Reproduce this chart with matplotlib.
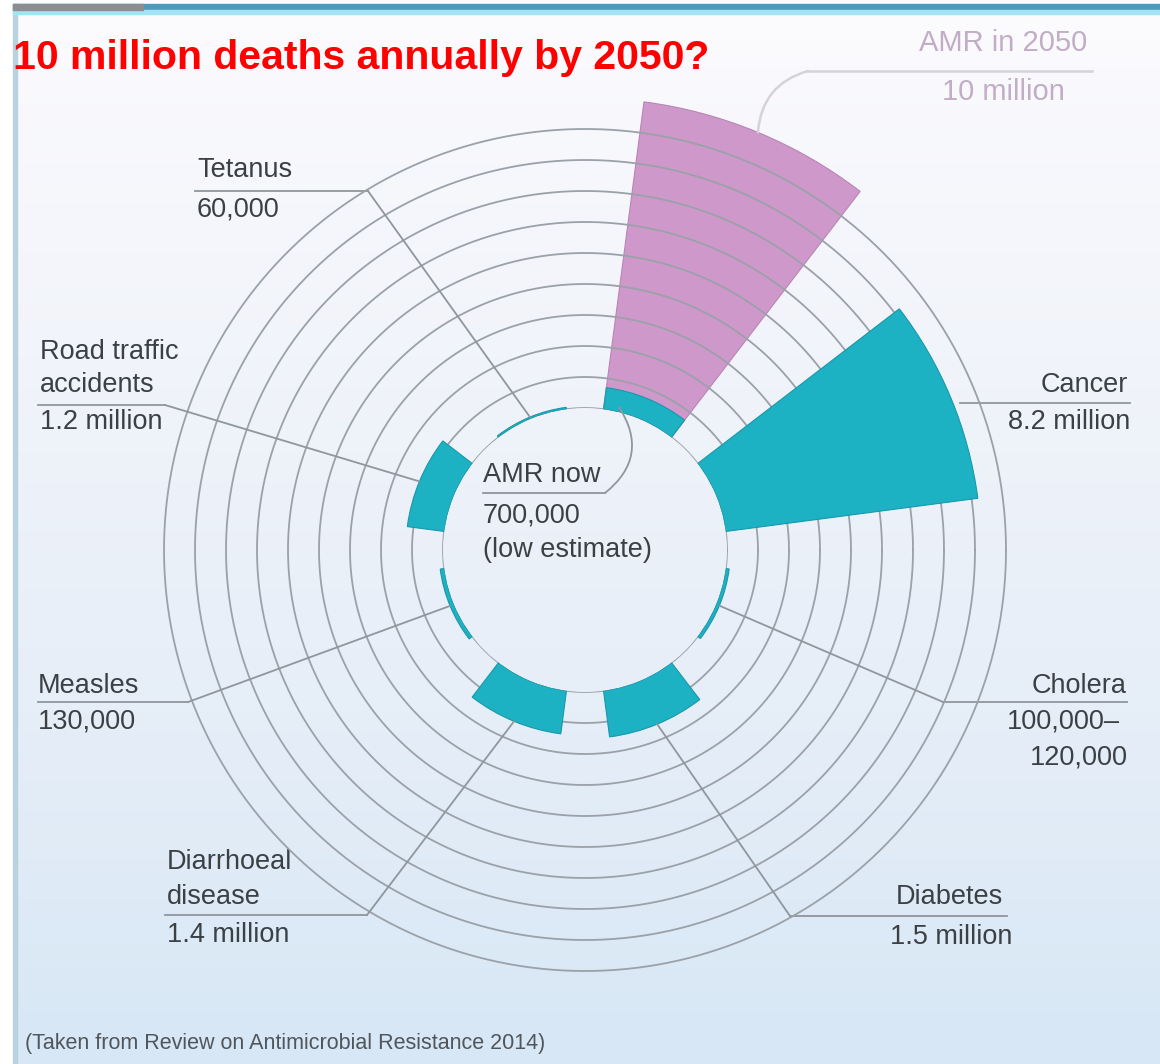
import numpy as np
import matplotlib.pyplot as plt
from matplotlib.patches import Rectangle
from matplotlib.colors import LinearSegmentedColormap

plt.rcParams['font.family'] = ['Liberation Sans', 'DejaVu Sans']

# ---- data (deaths per year, millions) ----
categories = ["AMR now", "Cancer", "Cholera", "Diabetes", "Diarrhoeal disease",
              "Measles", "Road traffic accidents", "Tetanus"]
deaths_now = [0.7, 8.2, 0.11, 1.5, 1.4, 0.13, 1.2, 0.06]
amr_2050 = 10.0

label_lines = [
    ["AMR now", "700,000", "(low estimate)"],
    ["Cancer", "8.2 million"],
    ["Cholera", "100,000\u2013", "120,000"],
    ["Diabetes", "1.5 million"],
    ["Diarrhoeal", "disease", "1.4 million"],
    ["Measles", "130,000"],
    ["Road traffic", "accidents", "1.2 million"],
    ["Tetanus", "60,000"],
]
amr_2050_lines = ["AMR in 2050", "10 million"]

W, H = 1160, 1064
teal = '#1cb1c3'
pink = '#cf98cb'
grid_col = '#9aa1a8'
txt_col = '#3b4045'

fig = plt.figure(figsize=(W / 100, H / 100), dpi=100)

# background in pixel coordinates
bg = fig.add_axes([0, 0, 1, 1], zorder=-5)
bg.set_xlim(0, W)
bg.set_ylim(H, 0)
bg.axis('off')
cmap = LinearSegmentedColormap.from_list('bgc', ['#fcfbfe', '#f1f4fa', '#e6eef8', '#d7e7f5'])
grad = np.linspace(0, 1, 256).reshape(-1, 1)
bg.imshow(grad, cmap=cmap, extent=[0, W, H, 0], aspect='auto', zorder=0)
bg.add_patch(Rectangle((0, 0), 13, H, color='white', zorder=1))
bg.add_patch(Rectangle((13, 4), 4, H, color='#b7d3de', zorder=1))
bg.add_patch(Rectangle((13, 4), W - 13, 6, color='#4a9cba', zorder=1))
bg.add_patch(Rectangle((13, 10), W - 13, 4, color='#a3e3f3', zorder=1))
bg.add_patch(Rectangle((13, 4), 130, 6, color='#8c8d90', zorder=1))
bg.set_ylim(H, 0)

# polar chart: centre at (585, 550) px, hole radius 142 px, 31 px per million
cx, cy, R, step, hole = 585, 550, 470, 31, 142
r0 = hole / step
ax = fig.add_axes([(cx - R) / W, 1 - (cy + R) / H, 2 * R / W, 2 * R / H], projection='polar')
ax.set_rorigin(-r0)
ax.set_ylim(0, R / step - r0)
ax.set_facecolor('none')
ax.axis('off')

theta = np.deg2rad(67.5 - 45 * np.arange(len(categories)))
width = np.deg2rad(30)

ax.bar(theta[0], amr_2050, width=width, bottom=0, color=pink, edgecolor='#b985b5',
       linewidth=0.8, zorder=1)
full = np.linspace(0, 2 * np.pi, 500)
for k in range(10):
    ax.plot(full, np.full_like(full, k), color=grid_col, lw=1.3, zorder=2)
ax.bar(theta, deaths_now, width=width, bottom=0, color=teal, edgecolor='#1a98aa',
       linewidth=0.8, zorder=3)

# labels: (x, y) of each line's anchor, alignment, underline and leader start
lab_fs = 19.5
layouts = {
    1: dict(lines=[(1128, 385), (1130, 422)], ha='right', ul=(960, 1130, 403)),
    2: dict(lines=[(1127, 686), (1007, 722), (1030, 757)], ha=['right', 'left', 'left'],
            ul=(943, 1127, 702)),
    3: dict(lines=[(1003, 897), (1012, 937)], ha='right', ul=(790, 1007, 916)),
    4: dict(lines=[(167, 862), (167, 897), (167, 935)], ha='left', ul=(165, 367, 915)),
    5: dict(lines=[(38, 686), (38, 722)], ha='left', ul=(38, 188, 702)),
    6: dict(lines=[(40, 352), (40, 385), (40, 422)], ha='left', ul=(38, 165, 405)),
    7: dict(lines=[(197, 170), (197, 210)], ha='left', ul=(195, 368, 191)),
}
for i, lay in layouts.items():
    has = lay['ha'] if isinstance(lay['ha'], list) else [lay['ha']] * len(lay['lines'])
    for s, (x, y), ha in zip(label_lines[i], lay['lines'], has):
        bg.text(x, y, s, fontsize=lab_fs, color=txt_col, ha=ha, va='center', zorder=5)
    x1, x2, yu = lay['ul']
    bg.plot([x1, x2], [yu, yu], color='#8f969d', lw=1.3, zorder=5)
    start = x2 if lay['ha'] == 'left' or (isinstance(lay['ha'], str) and lay['ha'] == 'left') else x1
    if i in (1,):
        continue
    ax.annotate('', xy=(theta[i], deaths_now[i]), xycoords='data',
                xytext=(start, yu), textcoords=bg.transData,
                arrowprops=dict(arrowstyle='-', color='#8f969d', lw=1.3,
                                shrinkA=0, shrinkB=0), zorder=6)

# AMR now label in the centre
for s, y in zip(label_lines[0], [475, 515, 550]):
    bg.text(483, y, s, fontsize=lab_fs, color=txt_col, ha='left', va='center', zorder=5)
bg.plot([483, 605], [493, 493], color='#8f969d', lw=1.3, zorder=5)
ax.annotate('', xy=(theta[0] + np.deg2rad(9), 0.15), xycoords='data',
            xytext=(605, 493), textcoords=bg.transData,
            arrowprops=dict(arrowstyle='-', color='#8f969d', lw=1.3, shrinkA=0, shrinkB=0,
                            connectionstyle='arc3,rad=0.45'), zorder=6)

# AMR in 2050 label (pale)
for s, y in zip(amr_2050_lines, [43, 92]):
    bg.text(1003, y, s, fontsize=21, color='#c2adc6', ha='center', va='center', zorder=5)
bg.plot([808, 1092], [71, 71], color='#d6d3d8', lw=1.8, zorder=5)
ax.annotate('', xy=(theta[0], amr_2050), xycoords='data',
            xytext=(808, 71), textcoords=bg.transData,
            arrowprops=dict(arrowstyle='-', color='#d6d3d8', lw=1.8, shrinkA=0, shrinkB=0,
                            connectionstyle='arc3,rad=0.35'), zorder=6)

# title and source
bg.text(13, 58, "10 million deaths annually by 2050?", fontsize=29.5, fontweight='bold',
        color='#ff0000', ha='left', va='center', zorder=5)
bg.text(25, 1043, "(Taken from Review on Antimicrobial Resistance 2014)", fontsize=15.5,
        color='#50565c', ha='left', va='center', zorder=5)

fig.savefig('out.png', dpi=100)
